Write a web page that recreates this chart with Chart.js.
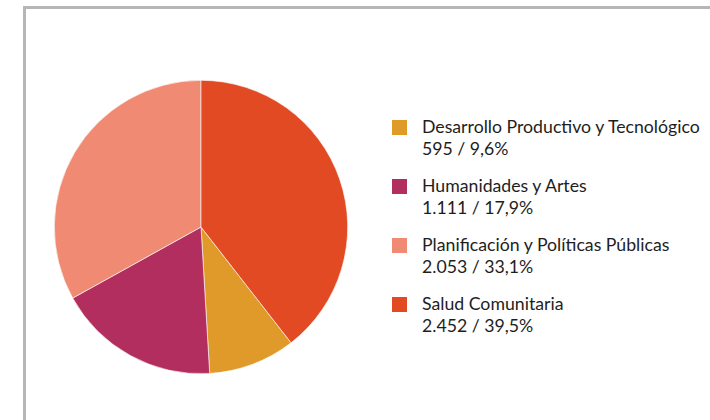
<!DOCTYPE html>
<html lang="es">
<head>
    <meta charset="UTF-8">
    <title>Distribución por área</title>
    <script src="https://cdn.jsdelivr.net/npm/chart.js"></script>
    <style>
        body { margin: 0; background: #fff; width: 710px; height: 420px; overflow: hidden; position: relative; }
        #frame { position: absolute; left: 23px; top: 6px; width: 720px; height: 430px; border: 3px solid #b6b6b6; box-sizing: border-box; }
        #pieWrap { position: absolute; left: 54px; top: 80px; width: 294px; height: 294px; }
        #legend { position: absolute; left: 392px; top: 116px; font-family: Lato, "Open Sans", sans-serif; font-size: 17.7px; color: #1e1e1e; }
        .item { position: relative; padding-left: 30px; line-height: 22px; height: 59px; white-space: nowrap; }
        .box { position: absolute; left: 0; top: 4px; width: 15px; height: 15px; }
    </style>
</head>
<body>
    <div id="frame"></div>
    <div id="pieWrap"><canvas id="pieChart" width="294" height="294"></canvas></div>
    <div id="legend"></div>

    <script>
        // legend order
        const areas = ['Desarrollo Productivo y Tecnológico', 'Humanidades y Artes', 'Planificación y Políticas Públicas', 'Salud Comunitaria'];
        const counts = [595, 1111, 2053, 2452];
        const countLabels = ['595', '1.111', '2.053', '2.452'];
        const pctLabels = ['9,6%', '17,9%', '33,1%', '39,5%'];
        const colors = ['#e09a29', '#b22e5f', '#f08a72', '#e24a24'];

        const total = counts.reduce((a, b) => a + b, 0);
        // Salud Comunitaria starts at 12 o'clock, the rest follow clockwise
        const startAngle = 360 * counts[3] / total;

        const ctx = document.getElementById('pieChart').getContext('2d');
        new Chart(ctx, {
            type: 'pie',
            data: {
                labels: areas,
                datasets: [{
                    data: counts,
                    backgroundColor: colors,
                    borderColor: '#ffffff',
                    borderWidth: 0.6,
                }],
            },
            options: {
                responsive: false,
                animation: false,
                rotation: startAngle,
                layout: { padding: 0 },
                plugins: {
                    legend: { display: false },
                    tooltip: { enabled: false },
                },
            },
        });

        const legend = document.getElementById('legend');
        areas.forEach((name, i) => {
            const row = document.createElement('div');
            row.className = 'item';
            row.innerHTML = '<span class="box" style="background:' + colors[i] + '"></span>' +
                name + '<br>' + countLabels[i] + ' / ' + pctLabels[i];
            legend.appendChild(row);
        });
    </script>
</body>
</html>
